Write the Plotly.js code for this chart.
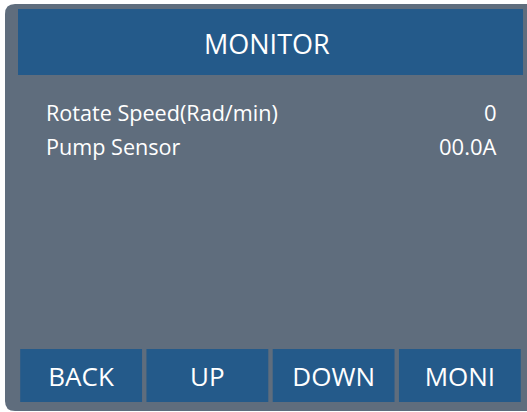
<!DOCTYPE html>
<html>
<head>
<meta charset="utf-8">
<script src="https://cdn.plot.ly/plotly-3.0.1.min.js"></script>
<style>html,body{margin:0;padding:0;background:#fff;}#chart{width:527px;height:412px;}</style>
</head>
<body>
<div id="chart"></div>
<script>
// ---- data ----
var screenTitle = "MONITOR";
var rowLabels = ["Rotate Speed(Rad/min)", "Pump Sensor"];
var rowValues = ["0", "00.0A"];
var buttonLabels = ["BACK", "UP", "DOWN", "MONI"];
var buttonHeights = [1, 1, 1, 1];

// ---- style ----
var W = 527, H = 412;
var PANEL = "#5f6d7d", BLUE = "#245a8a", WHITE = "#ffffff";
var FONT = "Open Sans, sans-serif";
function X(px){ return px / W; }
function Y(py){ return 1 - py / H; }

var r = 10, L = 5, T = 4, B = 411, R = 540;
var panelPath = "M " + X(L + r) + "," + Y(T) +
  " L " + X(R) + "," + Y(T) +
  " L " + X(R) + "," + Y(B) +
  " L " + X(L + r) + "," + Y(B) +
  " Q " + X(L) + "," + Y(B) + " " + X(L) + "," + Y(B - r) +
  " L " + X(L) + "," + Y(T + r) +
  " Q " + X(L) + "," + Y(T) + " " + X(L + r) + "," + Y(T) + " Z";

var shapes = [
  {type: "path", xref: "paper", yref: "paper", path: panelPath, fillcolor: PANEL, line: {width: 0}, layer: "below"},
  {type: "rect", xref: "paper", yref: "paper", x0: X(18), x1: X(523), y0: Y(75), y1: Y(9), fillcolor: BLUE, line: {width: 0}, layer: "below"}
];

var annotations = [
  {xref: "paper", yref: "paper", x: X(267), y: Y(44), text: screenTitle, showarrow: false,
   xanchor: "center", yanchor: "middle", font: {family: FONT, size: 27, color: WHITE}}
];
rowLabels.forEach(function(lbl, i){
  var yy = 112 + i * 34;
  annotations.push({xref: "paper", yref: "paper", x: X(46), y: Y(yy), text: lbl, showarrow: false,
    xanchor: "left", yanchor: "middle", xshift: -2, font: {family: FONT, size: 21.6, color: WHITE}});
  annotations.push({xref: "paper", yref: "paper", x: X(497), y: Y(yy), text: rowValues[i], showarrow: false,
    xanchor: "right", yanchor: "middle", xshift: 2, font: {family: FONT, size: 22, color: WHITE}});
});

var buttons = {
  type: "bar", x: buttonLabels, y: buttonHeights, text: buttonLabels,
  marker: {color: BLUE, line: {width: 0}},
  textposition: "inside", insidetextanchor: "middle", constraintext: "none",
  textfont: {family: FONT, size: 26, color: WHITE},
  hoverinfo: "skip", showlegend: false
};

var layout = {
  width: W, height: H,
  margin: {l: 0, r: 0, t: 0, b: 0, pad: 0},
  paper_bgcolor: WHITE, plot_bgcolor: "rgba(0,0,0,0)",
  bargap: 0.035,
  xaxis: {type: "category", domain: [X(18), X(523)], range: [-0.5, 3.5], visible: false, fixedrange: true},
  yaxis: {domain: [Y(402), Y(349)], range: [0, 1], visible: false, fixedrange: true},
  shapes: shapes, annotations: annotations, showlegend: false
};

Plotly.newPlot("chart", [buttons], layout, {displayModeBar: false, staticPlot: true});
</script>
</body>
</html>
